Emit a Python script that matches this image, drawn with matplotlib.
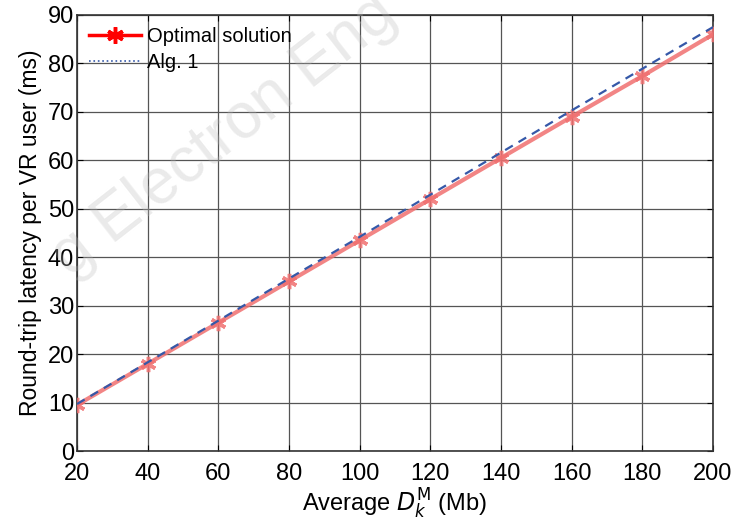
import matplotlib

matplotlib.use("Agg")
import matplotlib.pyplot as plt
from matplotlib.lines import Line2D

plt.rcParams["font.family"] = ["Liberation Sans", "DejaVu Sans"]

data_size = [20, 40, 60, 80, 100, 120, 140, 160, 180, 200]
optimal = [9.5, 18.0, 26.5, 35.0, 43.5, 52.0, 60.5, 69.0, 77.4, 86.0]
alg1 = [9.7, 18.3, 26.9, 35.6, 44.2, 52.9, 61.6, 70.3, 78.9, 87.5]

fig = plt.figure(figsize=(7.48, 5.21), dpi=100)
ax = fig.add_axes([77 / 748, 70 / 521, 636 / 748, 436 / 521])

star = (6, 2, 0)
ax.plot(data_size, optimal, "-", color="#f07070", lw=3, alpha=0.85, zorder=3)
ax.plot(data_size, optimal, ls="none", marker=star, color="#f07070", ms=11,
        mew=2.5, alpha=0.85, zorder=3)
ax.plot(data_size, alg1, "--", color="#3558a8", lw=1.6, dashes=(4, 3), zorder=4)

ax.set_xlim(20, 200)
ax.set_ylim(0, 90)
ax.set_xticks(range(20, 201, 20))
ax.set_yticks(range(0, 91, 10))
ax.grid(True, color="#555555", lw=0.9)
ax.tick_params(direction="in", top=True, right=True, labelsize=17, length=4)
ax.tick_params(axis="x", pad=9)
ax.tick_params(axis="y", pad=2)
for s in ax.spines.values():
    s.set_linewidth(1.2)
    s.set_color("#333333")

ax.set_xlabel(r"Average $D_k^{\mathrm{M}}$ (Mb)", fontsize=17, labelpad=1)
ax.set_ylabel("Round-trip latency per VR user (ms)", fontsize=16.5, labelpad=4)

handles = [
    Line2D([], [], color="red", lw=2.5, marker=star, ms=12, mew=2.5),
    Line2D([], [], color="#3558a8", lw=1.2, ls=":"),
]
ax.legend(handles, ["Optimal solution", "Alg. 1"], loc="upper left",
          fontsize=14.5, frameon=False, handlelength=2.6, borderaxespad=0.2,
          labelspacing=0.35, handletextpad=0.3)

# faint watermark
fig.text(0.30, 0.74, "g Electron Eng", fontsize=46, color="#bbbbbb",
         alpha=0.3, rotation=38, ha="center", va="center", zorder=10)

fig.savefig("out.png", dpi=100)
